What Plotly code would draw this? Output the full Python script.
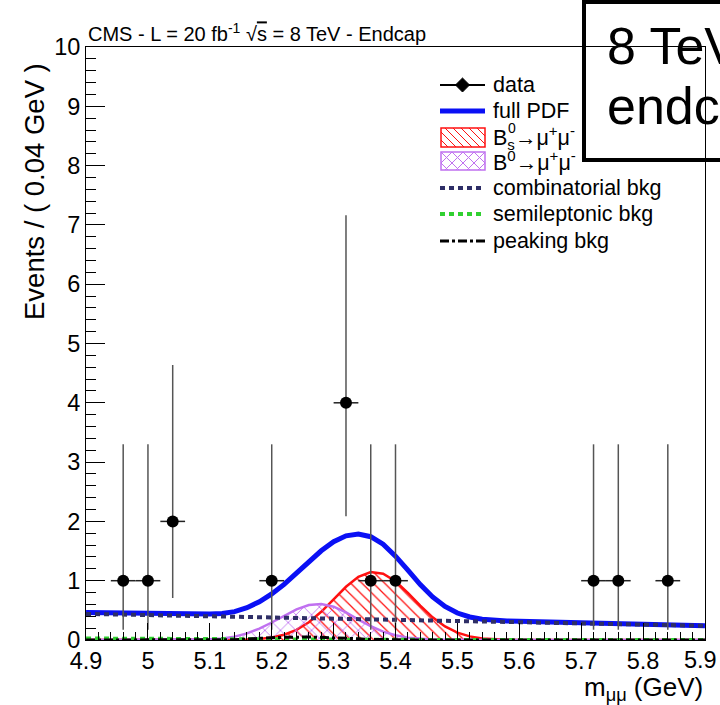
import numpy as np
import plotly.graph_objects as go

# ---------------- data ----------------
data_x = [4.96, 5.00, 5.04, 5.20, 5.32, 5.36, 5.40, 5.72, 5.76, 5.84]
data_y = [1, 1, 2, 1, 4, 1, 1, 1, 1, 1]
data_err_hi = [2.300, 2.300, 2.638, 2.300, 3.163, 2.300, 2.300, 2.300, 2.300, 2.300]
data_err_lo = [0.827, 0.827, 1.292, 0.827, 1.914, 0.827, 0.827, 0.827, 0.827, 0.827]
bin_half_width = 0.02

# PDF components sampled every 0.02 GeV from 4.90 to 5.90
curve_x = [round(4.90 + 0.02 * i, 2) for i in range(51)]
comb_bkg = [0.440, 0.436, 0.432, 0.428, 0.424, 0.420, 0.416, 0.412, 0.408, 0.404,
            0.400, 0.397, 0.394, 0.391, 0.388, 0.385, 0.381, 0.377, 0.373, 0.369,
            0.365, 0.361, 0.357, 0.353, 0.349, 0.345, 0.342, 0.339, 0.336, 0.333,
            0.330, 0.327, 0.324, 0.321, 0.318, 0.315, 0.311, 0.307, 0.303, 0.299,
            0.295, 0.290, 0.285, 0.280, 0.275, 0.270, 0.264, 0.258, 0.252, 0.246,
            0.240]
bs_sig = [0, 0, 0, 0, 0, 0, 0, 0, 0, 0,
          0, 0, 0.002, 0.007, 0.018, 0.042, 0.088, 0.171, 0.299, 0.476,
          0.686, 0.898, 1.065, 1.147, 1.119, 0.990, 0.795, 0.578, 0.382, 0.229,
          0.124, 0.061, 0.027, 0.011, 0.004, 0.001, 0, 0, 0, 0,
          0, 0, 0, 0, 0, 0, 0, 0, 0, 0,
          0]
bd_sig = [0, 0, 0, 0, 0, 0, 0, 0, 0.002, 0.005,
          0.012, 0.027, 0.057, 0.112, 0.192, 0.295, 0.410, 0.518, 0.590, 0.607,
          0.562, 0.465, 0.345, 0.232, 0.142, 0.079, 0.040, 0.018, 0.008, 0.003,
          0.001, 0, 0, 0, 0, 0, 0, 0, 0, 0,
          0, 0, 0, 0, 0, 0, 0, 0, 0, 0,
          0]
semi_bkg = [0.025, 0.025, 0.025, 0.025, 0.025, 0.025, 0.025, 0.025, 0.025, 0.025,
            0.025, 0.023, 0.021, 0.019, 0.017, 0.015, 0.013, 0.011, 0.009, 0.007,
            0.005, 0.003, 0.001, 0, 0, 0, 0, 0, 0, 0,
            0, 0, 0, 0, 0, 0, 0, 0, 0, 0,
            0, 0, 0, 0, 0, 0, 0, 0, 0, 0,
            0]
peak_bkg = [0, 0, 0, 0, 0, 0, 0, 0, 0, 0,
            0, 0, 0.005, 0.015, 0.03, 0.04, 0.045, 0.05, 0.05, 0.045,
            0.04, 0.03, 0.02, 0.01, 0.005, 0, 0, 0, 0, 0,
            0, 0, 0, 0, 0, 0, 0, 0, 0, 0,
            0, 0, 0, 0, 0, 0, 0, 0, 0, 0,
            0]
full_pdf = list(np.array(comb_bkg) + np.array(bs_sig) + np.array(bd_sig)
                + np.array(semi_bkg) + np.array(peak_bkg))

x_ticks = [4.9, 5.0, 5.1, 5.2, 5.3, 5.4, 5.5, 5.6, 5.7, 5.8, 5.9]
x_ticklabels = ["4.9", "5", "5.1", "5.2", "5.3", "5.4", "5.5", "5.6", "5.7", "5.8", "5.9"]

legend_labels = ["data", "full PDF",
                 "B<sub>s</sub>→μ<sup>+</sup>μ<sup>-</sup>",
                 "B<sup>0</sup>→μ<sup>+</sup>μ<sup>-</sup>",
                 "combinatorial bkg", "semileptonic bkg", "peaking bkg"]

FONT = "Liberation Sans, Arial, Helvetica, sans-serif"
C_BLUE = "#0a10f5"
C_RED = "#ff1010"
C_VIOLET = "#c070f0"
C_NAVY = "#2e2e66"
C_GREEN = "#30d030"

fig = go.Figure()

fig.add_trace(go.Scatter(
    x=curve_x, y=full_pdf, mode="lines", name="full PDF",
    line=dict(color=C_BLUE, width=5)))

fig.add_trace(go.Scatter(
    x=curve_x, y=bs_sig, mode="lines", name="Bs",
    line=dict(color=C_RED, width=2.5), fill="tozeroy",
    fillcolor="rgba(255,255,255,0)",
    fillpattern=dict(shape="\\", fgcolor=C_RED, bgcolor="rgba(255,255,255,0)",
                     fgopacity=1, size=8, solidity=0.16)))

fig.add_trace(go.Scatter(
    x=curve_x, y=bd_sig, mode="lines", name="Bd",
    line=dict(color=C_VIOLET, width=2.5), fill="tozeroy",
    fillcolor="rgba(255,255,255,0)",
    fillpattern=dict(shape="x", fgcolor=C_VIOLET, bgcolor="rgba(255,255,255,0)",
                     fgopacity=1, size=11, solidity=0.15)))

fig.add_trace(go.Scatter(
    x=curve_x, y=comb_bkg, mode="lines", name="combinatorial bkg",
    line=dict(color=C_NAVY, width=4, dash="5px,4px")))

fig.add_trace(go.Scatter(
    x=curve_x, y=semi_bkg, mode="lines", name="semileptonic bkg",
    line=dict(color=C_GREEN, width=4, dash="5px,4px")))

fig.add_trace(go.Scatter(
    x=curve_x, y=peak_bkg, mode="lines", name="peaking bkg",
    line=dict(color="black", width=3, dash="dashdot")))

fig.add_trace(go.Scatter(
    x=data_x, y=data_y, mode="markers", name="data",
    marker=dict(symbol="circle", size=12, color="black"),
    error_y=dict(type="data", symmetric=False, array=data_err_hi, arrayminus=data_err_lo,
                 color="#555555", thickness=1.5, width=0),
    error_x=dict(type="constant", value=bin_half_width, color="#222222", thickness=1.5, width=0)))


# pixel -> paper helpers (plot area: x 86..705, y 47..640)
def px_x(p):
    return (p - 86) / 619.0


def px_y(p):
    return (640 - p) / 593.0


def path_from_segments(segs):
    parts = []
    for (xa, ya), (xb, yb) in segs:
        parts.append("M%.5f,%.5f L%.5f,%.5f" % (px_x(xa), px_y(ya), px_x(xb), px_y(yb)))
    return " ".join(parts)


def hatch_back(x0, x1, y0, y1, step):
    # "\" lines : y = x + c (screen coordinates)
    segs = []
    c = y0 - x1
    while c < y1 - x0:
        xs = max(x0, y0 - c)
        xe = min(x1, y1 - c)
        if xe > xs:
            segs.append(((xs, xs + c), (xe, xe + c)))
        c += step
    return segs


def hatch_fwd(x0, x1, y0, y1, step):
    # "/" lines : y = -x + c
    segs = []
    c = x0 + y0
    while c < x1 + y1:
        xs = max(x0, c - y1)
        xe = min(x1, c - y0)
        if xe > xs:
            segs.append(((xs, c - xs), (xe, c - xe)))
        c += step
    return segs


shapes = []
annotations = []

# ---------------- legend (drawn manually, ROOT style) ----------------
leg_rows = [85, 111, 137, 161, 188, 214, 241]
sx0, sx1, tx = 440, 485, 491
LEG_SIZE = 21.5
# data
shapes.append(dict(type="line", xref="paper", yref="paper", x0=px_x(sx0), x1=px_x(sx1),
                   y0=px_y(leg_rows[0]), y1=px_y(leg_rows[0]), line=dict(color="black", width=2)))
cx, cy = (sx0 + sx1) / 2, leg_rows[0]
shapes.append(dict(type="path", xref="paper", yref="paper",
                   path="M%.5f,%.5f L%.5f,%.5f L%.5f,%.5f L%.5f,%.5f Z" % (
                       px_x(cx), px_y(cy - 7), px_x(cx + 7), px_y(cy), px_x(cx), px_y(cy + 7),
                       px_x(cx - 7), px_y(cy)),
                   fillcolor="black", line=dict(color="black", width=1)))
# full PDF
shapes.append(dict(type="line", xref="paper", yref="paper", x0=px_x(sx0), x1=px_x(sx1),
                   y0=px_y(leg_rows[1]), y1=px_y(leg_rows[1]), line=dict(color=C_BLUE, width=5)))
# Bs box
bx0, bx1, by0, by1 = 441, 485, 128, 147
shapes.append(dict(type="path", xref="paper", yref="paper",
                   path=path_from_segments(hatch_back(bx0, bx1, by0, by1, 8)),
                   line=dict(color=C_RED, width=1)))
shapes.append(dict(type="rect", xref="paper", yref="paper", x0=px_x(bx0), x1=px_x(bx1),
                   y0=px_y(by1), y1=px_y(by0), line=dict(color=C_RED, width=1.5)))
# Bd box
bx0, bx1, by0, by1 = 441, 485, 152, 170
shapes.append(dict(type="path", xref="paper", yref="paper",
                   path=path_from_segments(hatch_back(bx0, bx1, by0, by1, 11) +
                                           hatch_fwd(bx0, bx1, by0, by1, 11)),
                   line=dict(color=C_VIOLET, width=1)))
shapes.append(dict(type="rect", xref="paper", yref="paper", x0=px_x(bx0), x1=px_x(bx1),
                   y0=px_y(by1), y1=px_y(by0), line=dict(color=C_VIOLET, width=1.5)))
# comb, semi, peaking
for row, col, wid, dsh in [(leg_rows[4], C_NAVY, 4, "5px,4px"),
                           (leg_rows[5], C_GREEN, 4, "5px,4px"),
                           (leg_rows[6], "black", 3, "dashdot")]:
    shapes.append(dict(type="line", xref="paper", yref="paper", x0=px_x(sx0), x1=px_x(sx1),
                       y0=px_y(row), y1=px_y(row), line=dict(color=col, width=wid, dash=dsh)))
for row, lab in zip(leg_rows, legend_labels):
    annotations.append(dict(text=lab, xref="paper", yref="paper", x=px_x(tx), y=px_y(row),
                            xanchor="left", yanchor="middle", showarrow=False,
                            font=dict(size=LEG_SIZE, family=FONT)))
# stacked superscript "0" above the subscript "s" of B_s
annotations.append(dict(text="0", xref="paper", yref="paper", x=px_x(tx + 15), y=px_y(leg_rows[2] - 9),
                        xanchor="left", yanchor="middle", showarrow=False,
                        font=dict(size=14, family=FONT)))

# last x tick label kept inside the page (as in the reference)
annotations.append(dict(text=x_ticklabels[-1], xref="paper", yref="paper",
                        x=px_x(719), y=px_y(660), xanchor="right", yanchor="middle",
                        showarrow=False, font=dict(size=23.5, family=FONT)))
tick_text_shown = x_ticklabels[:-1] + [""]

# ---------------- titles ----------------
annotations += [
    dict(text="CMS - L = 20 fb<sup>-1</sup> √<span style='text-decoration:overline'>s</span> = 8 TeV - Endcap",
         xref="paper", yref="paper", x=0.0, y=1.0, xanchor="left", yanchor="bottom",
         showarrow=False, font=dict(size=20, family=FONT)),
    dict(text="Events / ( 0.04 GeV )", textangle=-90,
         xref="paper", yref="paper", x=px_x(34), y=px_y(192), xanchor="center", yanchor="middle",
         showarrow=False, font=dict(size=27.5, family=FONT)),
    dict(text="m<sub>μμ</sub> (GeV)",
         xref="paper", yref="paper", x=1.0, y=px_y(688), xanchor="right", yanchor="middle",
         showarrow=False, font=dict(size=26, family=FONT)),
    dict(text="8 TeV", xref="paper", yref="paper", x=px_x(605), y=px_y(46),
         xanchor="left", yanchor="middle", showarrow=False, font=dict(size=52, family=FONT)),
    dict(text="endcap", xref="paper", yref="paper", x=px_x(605), y=px_y(106),
         xanchor="left", yanchor="middle", showarrow=False, font=dict(size=52, family=FONT)),
]

shapes.append(dict(type="rect", xref="paper", yref="paper",
                   x0=px_x(584), x1=px_x(780), y0=px_y(160), y1=px_y(2),
                   line=dict(color="black", width=4), fillcolor="rgba(0,0,0,0)", layer="above"))

fig.update_layout(
    width=720, height=705,
    margin=dict(l=86, r=15, t=47, b=65, pad=0, autoexpand=False),
    paper_bgcolor="white", plot_bgcolor="white",
    font=dict(family=FONT, color="black", size=21),
    showlegend=False,
    xaxis=dict(range=[4.8999, 5.9001], tickvals=x_ticks, ticktext=tick_text_shown,
               ticks="inside", ticklen=17, tickwidth=1, tickcolor="black",
               showline=True, linecolor="black", linewidth=1, mirror=True,
               showgrid=False, zeroline=False, automargin=False,
               tickfont=dict(size=23.5, family=FONT),
               minor=dict(dtick=0.02, tick0=4.9, ticks="inside", ticklen=8,
                          tickcolor="black", tickwidth=1, showgrid=False)),
    yaxis=dict(range=[0, 10], dtick=1, tick0=0,
               ticks="inside", ticklen=19, tickwidth=1, tickcolor="black",
               showline=True, linecolor="black", linewidth=1, mirror=True,
               showgrid=False, zeroline=False, automargin=False,
               tickfont=dict(size=23.5, family=FONT),
               minor=dict(dtick=0.2, tick0=0, ticks="inside", ticklen=10,
                          tickcolor="black", tickwidth=1, showgrid=False)),
    shapes=shapes,
    annotations=annotations,
)

fig.write_html("out.html")
